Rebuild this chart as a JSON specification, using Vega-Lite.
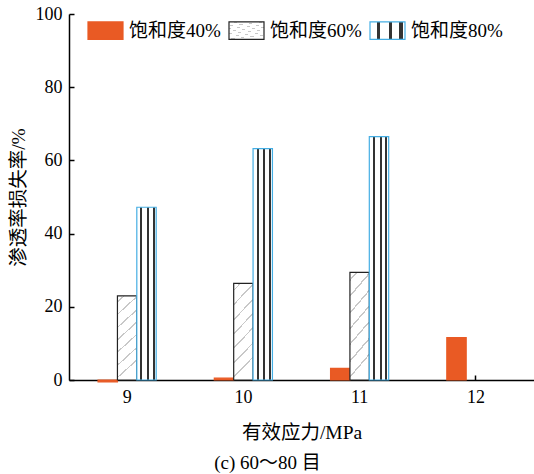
{
  "$schema": "https://vega.github.io/schema/vega-lite/v6.json",
  "width": 465,
  "height": 366,
  "autosize": {"type": "none"},
  "padding": {"left": 69, "top": 14, "right": 0, "bottom": 94},
  "background": "white",
  "config": {
    "font": "Liberation Serif, Noto Sans CJK SC",
    "view": {"stroke": null},
    "axis": {"grid": false, "domainColor": "black", "domainWidth": 1.5, "tickColor": "black", "tickWidth": 1.5, "labelColor": "black", "titleColor": "black", "titleFontWeight": "normal", "labelFontSize": 18, "titleFontSize": 18}
  },
  "title": {"text": "(c) 60～80 目", "orient": "bottom", "anchor": "middle", "fontSize": 19, "fontWeight": "normal", "color": "black", "dx": -34, "offset": 12},
  "data": {
    "values": [
      {"stress": "9", "series": "饱和度40%", "value": -0.5},
      {"stress": "9", "series": "饱和度60%", "value": 23.0},
      {"stress": "9", "series": "饱和度80%", "value": 47.2},
      {"stress": "10", "series": "饱和度40%", "value": 0.5},
      {"stress": "10", "series": "饱和度60%", "value": 26.4},
      {"stress": "10", "series": "饱和度80%", "value": 63.2},
      {"stress": "11", "series": "饱和度40%", "value": 3.2},
      {"stress": "11", "series": "饱和度60%", "value": 29.4},
      {"stress": "11", "series": "饱和度80%", "value": 66.5},
      {"stress": "12", "series": "饱和度40%", "value": 11.6}
    ]
  },
  "mark": {"type": "bar", "strokeWidth": 1.2, "opacity": 1},
  "encoding": {
    "x": {
      "field": "stress", "type": "nominal", "sort": ["9", "10", "11", "12"],
      "scale": {"paddingInner": 0.5, "paddingOuter": 0.25},
      "axis": {"title": "有效应力/MPa", "titleFontSize": 19.5, "labelAngle": 0, "tickSize": -5, "tickBand": "center", "labelPadding": 13, "titlePadding": 17}
    },
    "xOffset": {"field": "series", "type": "nominal", "sort": ["饱和度40%", "饱和度60%", "饱和度80%"], "scale": {"paddingInner": 0, "paddingOuter": 0}},
    "y": {
      "field": "value", "type": "quantitative",
      "scale": {"domain": [0, 100], "nice": false},
      "axis": {"title": "渗透率损失率/%", "titleFontSize": 19.5, "values": [0, 20, 40, 60, 80, 100], "tickSize": -5, "labelPadding": 12, "titlePadding": 7}
    },
    "fill": {
      "field": "series", "type": "nominal",
      "scale": {
        "domain": ["饱和度40%", "饱和度60%", "饱和度80%"],
        "range": [
          "#E95A24",
          {"expr": "{gradient: 'linear', x1: 0, y1: 0, x2: 0.21, y2: 1, stops: [{offset: 0, color: 'white'}, {offset: 0.061, color: 'white'}, {offset: 0.061, color: '#c8c8c8'}, {offset: 0.079, color: '#c8c8c8'}, {offset: 0.079, color: 'white'}, {offset: 0.201, color: 'white'}, {offset: 0.201, color: '#c8c8c8'}, {offset: 0.219, color: '#c8c8c8'}, {offset: 0.219, color: 'white'}, {offset: 0.351, color: 'white'}, {offset: 0.351, color: '#c8c8c8'}, {offset: 0.369, color: '#c8c8c8'}, {offset: 0.369, color: 'white'}, {offset: 0.491, color: 'white'}, {offset: 0.491, color: '#c8c8c8'}, {offset: 0.509, color: '#c8c8c8'}, {offset: 0.509, color: 'white'}, {offset: 0.631, color: 'white'}, {offset: 0.631, color: '#c8c8c8'}, {offset: 0.649, color: '#c8c8c8'}, {offset: 0.649, color: 'white'}, {offset: 0.781, color: 'white'}, {offset: 0.781, color: '#c8c8c8'}, {offset: 0.799, color: '#c8c8c8'}, {offset: 0.799, color: 'white'}, {offset: 0.921, color: 'white'}, {offset: 0.921, color: '#c8c8c8'}, {offset: 0.939, color: '#c8c8c8'}, {offset: 0.939, color: 'white'}, {offset: 1, color: 'white'}]}"},
          {"expr": "{gradient: 'linear', x1: 0, y1: 0, x2: 1, y2: 0, stops: [{offset: 0, color: 'white'}, {offset: 0.19, color: 'white'}, {offset: 0.19, color: '#333333'}, {offset: 0.29, color: '#333333'}, {offset: 0.29, color: 'white'}, {offset: 0.53, color: 'white'}, {offset: 0.53, color: '#333333'}, {offset: 0.63, color: '#333333'}, {offset: 0.63, color: 'white'}, {offset: 0.83, color: 'white'}, {offset: 0.83, color: '#333333'}, {offset: 0.93, color: '#333333'}, {offset: 0.93, color: 'white'}, {offset: 1, color: 'white'}]}"}
        ]
      },
      "legend": {
        "title": null, "orient": "none", "direction": "horizontal", "legendX": 18, "legendY": -2, "padding": 0,
        "symbolType": "M-1,-0.5H1V0.5H-1Z", "symbolSize": 1225, "symbolStrokeWidth": 1.2, "symbolOpacity": 1,
        "labelFontSize": 19, "labelColor": "black", "labelOffset": 5, "columnPadding": 5, "labelLimit": 200
      }
    },
    "stroke": {
      "field": "series", "type": "nominal",
      "scale": {"domain": ["饱和度40%", "饱和度60%", "饱和度80%"], "range": ["#E95A24", "#222222", "#45AEE4"]},
      "legend": {
        "title": null, "orient": "none", "direction": "horizontal", "legendX": 18, "legendY": -2, "padding": 0,
        "symbolType": "M-1,-0.5H1V0.5H-1Z", "symbolSize": 1225, "symbolStrokeWidth": 1.2, "symbolOpacity": 1,
        "labelFontSize": 19, "labelColor": "black", "labelOffset": 5, "columnPadding": 5, "labelLimit": 200
      }
    }
  }
}
